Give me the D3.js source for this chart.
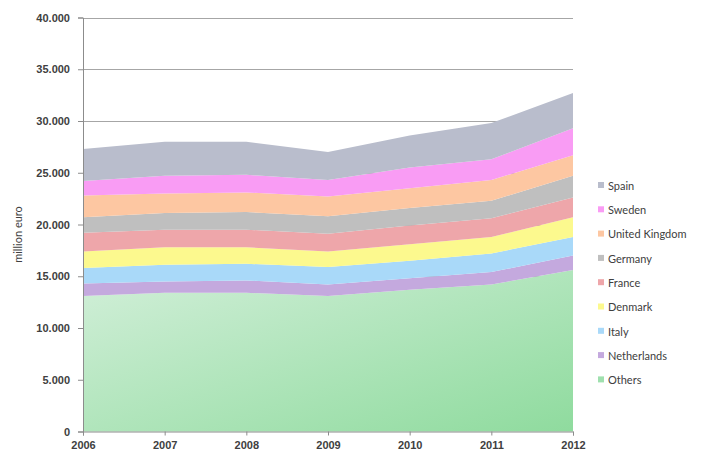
<!DOCTYPE html>
<html>
<head>
<meta charset="utf-8">
<script src="https://cdnjs.cloudflare.com/ajax/libs/d3/7.8.5/d3.min.js"></script>
<style>
  html, body { margin: 0; padding: 0; background: #ffffff; }
  svg { display: block; font-family: Lato, "Open Sans", "Liberation Sans", sans-serif; }
</style>
</head>
<body>
<svg id="chart" width="713" height="454"></svg>
<script>
// Years on the x axis
const years = [2006, 2007, 2008, 2009, 2010, 2011, 2012];

// Series, stacked bottom to top (million euro)
const seriesNames = ["Others", "Netherlands", "Italy", "Denmark", "France", "Germany", "United Kingdom", "Sweden", "Spain"];
const others        = [13100, 13400, 13400, 13100, 13700, 14200, 15600];
const netherlands   = [1200, 1100, 1200, 1100, 1100, 1200, 1400];
const italy         = [1500, 1600, 1600, 1700, 1700, 1800, 1800];
const denmark       = [1600, 1700, 1600, 1500, 1600, 1600, 1900];
const france        = [1800, 1700, 1700, 1700, 1800, 1800, 1900];
const germany       = [1500, 1600, 1700, 1700, 1700, 1700, 2100];
const unitedKingdom = [2100, 1900, 1900, 1900, 1900, 2000, 2000];
const sweden        = [1400, 1700, 1700, 1600, 2000, 2000, 2600];
const spain         = [3100, 3300, 3200, 2700, 3100, 3500, 3400];

// Y axis tick values
const yTicks = [0, 5000, 10000, 15000, 20000, 25000, 30000, 35000, 40000];

const seriesValues = [others, netherlands, italy, denmark, france, germany, unitedKingdom, sweden, spain];
const colors = ["#a9e4b6", "#c4a9de", "#a9d9f9", "#fcf98e", "#eea6aa", "#bfbfbf", "#fdc7a2", "#f99cf4", "#b9bdcc"];

const rows = years.map((y, i) => {
  const r = { year: y };
  seriesNames.forEach((n, k) => { r[n] = seriesValues[k][i]; });
  return r;
});

const svg = d3.select("#chart");
const margin = { left: 83, right: 140, top: 17.5, bottom: 22.5 };
const W = 713, H = 454;

const x = d3.scaleLinear().domain([2006, 2012]).range([margin.left, W - margin.right]);
const y = d3.scaleLinear().domain([0, 40000]).range([H - margin.bottom, margin.top]);

// gradient for the base layer
const defs = svg.append("defs");
const g0 = defs.append("linearGradient").attr("id", "othersGrad")
  .attr("x1", "0%").attr("y1", "0%").attr("x2", "100%").attr("y2", "100%");
g0.append("stop").attr("offset", "0%").attr("stop-color", "#d2efd9");
g0.append("stop").attr("offset", "100%").attr("stop-color", "#8fdb9e");

// horizontal gridlines
svg.append("g")
  .selectAll("line")
  .data(yTicks.filter(d => d > 0))
  .join("line")
  .attr("x1", x(2006)).attr("x2", x(2012))
  .attr("y1", d => Math.round(y(d)) + 0.5).attr("y2", d => Math.round(y(d)) + 0.5)
  .attr("stroke", "#a6a6a6").attr("stroke-width", 1);

// stacked areas
const stack = d3.stack().keys(seriesNames);
const layers = stack(rows);
const area = d3.area()
  .x(d => x(d.data.year))
  .y0(d => y(d[0]))
  .y1(d => y(d[1]));

svg.append("g")
  .selectAll("path")
  .data(layers)
  .join("path")
  .attr("d", area)
  .attr("fill", (d, i) => i === 0 ? "url(#othersGrad)" : colors[i]);

// y axis
const yAxis = d3.axisLeft(y)
  .tickValues(yTicks)
  .tickSize(5)
  .tickPadding(8)
  .tickFormat(d => d === 0 ? "0" : d3.format(",")(d).replace(/,/g, "."));
const ya = svg.append("g").attr("transform", `translate(${x(2006)},0)`).call(yAxis);
ya.select(".domain").attr("stroke", "#8c8c8c");
ya.selectAll(".tick line").attr("stroke", "#8c8c8c");
ya.selectAll(".tick text").attr("fill", "#404040").attr("font-size", 11).attr("font-weight", "bold");

// x axis
const xAxis = d3.axisBottom(x)
  .tickValues(years)
  .tickSize(4)
  .tickPadding(6)
  .tickFormat(d3.format("d"));
const xa = svg.append("g").attr("transform", `translate(0,${y(0)})`).call(xAxis);
xa.select(".domain").attr("stroke", "#8c8c8c");
xa.selectAll(".tick line").attr("stroke", "#8c8c8c");
xa.selectAll(".tick text").attr("fill", "#404040").attr("font-size", 11).attr("font-weight", "bold");

// y axis title
svg.append("text")
  .attr("transform", `translate(22,${(y(0) + y(40000)) / 2 + 10}) rotate(-90)`)
  .attr("text-anchor", "middle")
  .attr("fill", "#404040")
  .attr("font-size", 11)
  .text("million euro");

// legend, top to bottom in reverse stacking order
const legendItems = seriesNames.map((n, i) => ({ name: n, color: i === 0 ? "#9fe0ae" : colors[i] })).reverse();
const lg = svg.append("g").attr("transform", "translate(598,186)");
const item = lg.selectAll("g").data(legendItems).join("g")
  .attr("transform", (d, i) => `translate(0,${i * 24.3})`);
item.append("rect").attr("x", 0).attr("y", -4).attr("width", 6).attr("height", 6).attr("fill", d => d.color);
item.append("text").attr("x", 10).attr("y", 0).attr("dy", "0.35em")
  .attr("fill", "#404040").attr("font-size", 11).text(d => d.name);
</script>
</body>
</html>
